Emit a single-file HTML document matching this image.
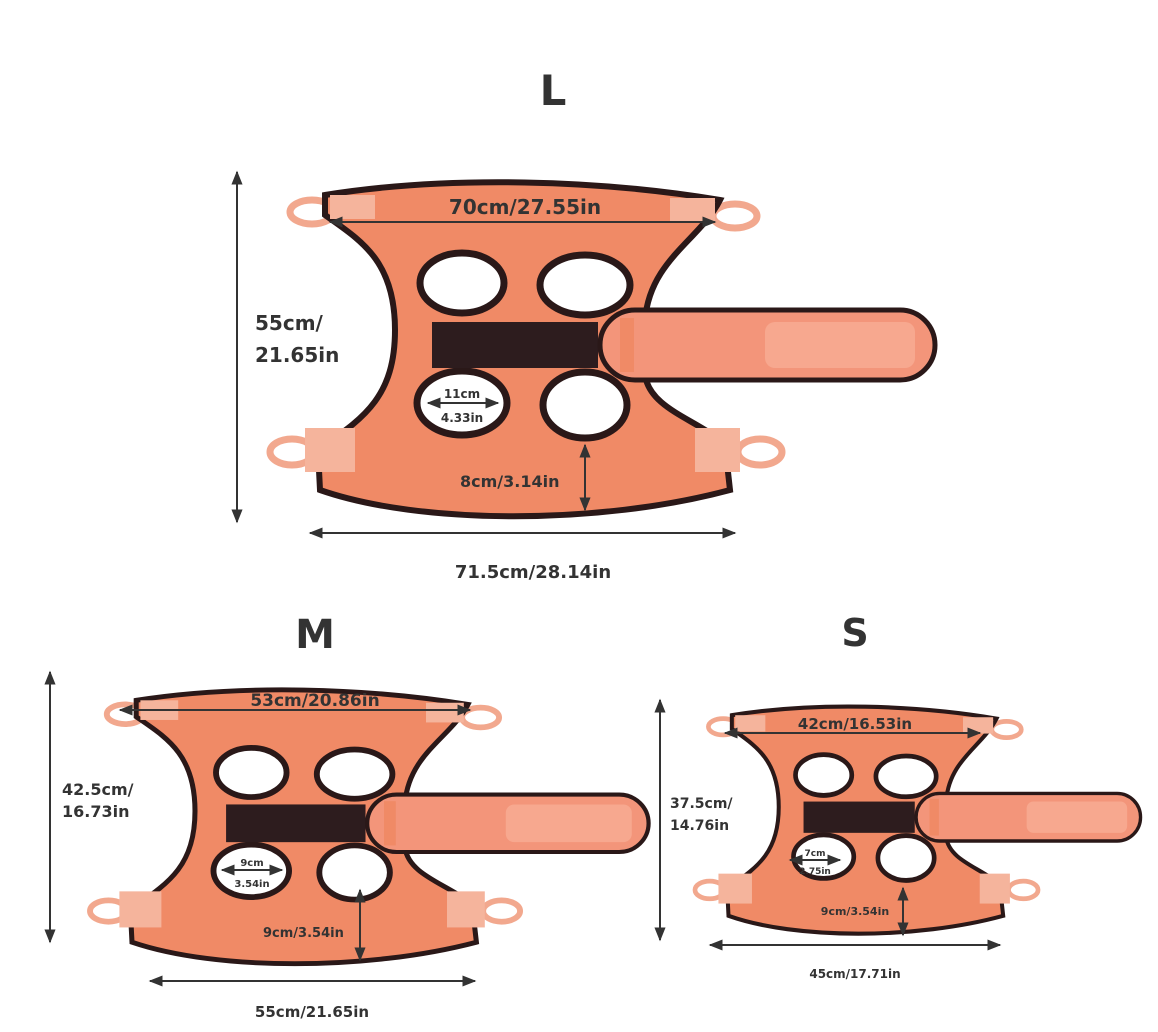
<!DOCTYPE html>
<html><head><meta charset="utf-8"><style>
html,body{margin:0;padding:0;background:#fff;}
svg{display:block;}
text{font-family:"DejaVu Sans","Liberation Sans",sans-serif;font-weight:bold;fill:#333;}
</style></head><body>
<svg width="1158" height="1032" viewBox="0 0 1158 1032" xmlns="http://www.w3.org/2000/svg">
<defs>
<marker id="a" viewBox="0 0 10 10" refX="9" refY="5" markerWidth="7" markerHeight="7" orient="auto-start-reverse"><path d="M0,1 L10,5 L0,9 Z" fill="#333"/></marker>
<g id="vest">
  <!-- loops -->
  <g fill="none" stroke="#f2a88e" stroke-width="7">
    <ellipse cx="312" cy="212" rx="22" ry="12"/>
    <ellipse cx="735" cy="216" rx="22" ry="12"/>
    <ellipse cx="292" cy="452" rx="22" ry="13"/>
    <ellipse cx="760" cy="452" rx="22" ry="13"/>
  </g>
  <path d="M325,195 C450,175 600,180 720,200 C700,240 650,260 645,320 L645,375 C650,410 700,420 725,445 L730,490 C600,525 420,525 320,490 L318,450 C360,420 395,400 395,330 C395,260 360,240 325,215 Z" fill="#f08a66" stroke="#2a1818" stroke-width="6"/>
  <!-- tabs -->
  <g fill="#f5b49c">
    <rect x="330" y="195" width="45" height="24"/>
    <rect x="670" y="198" width="45" height="24"/>
    <rect x="305" y="428" width="50" height="44"/>
    <rect x="695" y="428" width="45" height="44"/>
  </g>
  <!-- holes -->
  <g fill="#fff" stroke="#2a1818" stroke-width="7">
    <ellipse cx="462" cy="283" rx="42" ry="30"/>
    <ellipse cx="585" cy="285" rx="45" ry="30"/>
    <ellipse cx="462" cy="403" rx="45" ry="32"/>
    <ellipse cx="585" cy="405" rx="42" ry="33"/>
  </g>
  <rect x="432" y="322" width="166" height="46" fill="#2d1c1e"/>
  <rect x="600" y="310" width="335" height="70" rx="35" fill="#f3957a" stroke="#2a1818" stroke-width="5"/>
  <rect x="620" y="318" width="14" height="54" fill="#f08a66"/>
  <rect x="765" y="322" width="150" height="46" rx="10" fill="#f7a88f"/>
</g>
</defs>
<rect width="1158" height="1032" fill="#fff"/>

<!-- L -->
<text x="553" y="105" font-size="42" text-anchor="middle">L</text>
<use href="#vest"/>
<g stroke="#333" stroke-width="2" marker-start="url(#a)" marker-end="url(#a)">
  <line x1="237" y1="172" x2="237" y2="522"/>
  <line x1="310" y1="533" x2="735" y2="533"/>
  <line x1="330" y1="222" x2="715" y2="222"/>
  <line x1="585" y1="445" x2="585" y2="510"/>
  <line x1="428" y1="403" x2="498" y2="403"/>
</g>
<text x="525" y="214" font-size="20" text-anchor="middle">70cm/27.55in</text>
<text x="255" y="330" font-size="20">55cm/</text>
<text x="255" y="362" font-size="20">21.65in</text>
<text x="533" y="578" font-size="18" text-anchor="middle">71.5cm/28.14in</text>
<text x="460" y="487" font-size="16">8cm/3.14in</text>
<text x="462" y="398" font-size="12" text-anchor="middle">11cm</text>
<text x="462" y="422" font-size="12" text-anchor="middle">4.33in</text>

<!-- M -->
<text x="315" y="648" font-size="40" text-anchor="middle">M</text>
<use href="#vest" transform="translate(90,688) scale(0.84,0.82) translate(-270,-180)"/>
<g stroke="#333" stroke-width="2" marker-start="url(#a)" marker-end="url(#a)">
  <line x1="50" y1="672" x2="50" y2="942"/>
  <line x1="150" y1="981" x2="475" y2="981"/>
  <line x1="120" y1="710" x2="470" y2="710"/>
  <line x1="360" y1="890" x2="360" y2="960"/>
  <line x1="222" y1="870" x2="282" y2="870"/>
</g>
<text x="315" y="706" font-size="17" text-anchor="middle">53cm/20.86in</text>
<text x="62" y="795" font-size="16">42.5cm/</text>
<text x="62" y="817" font-size="16">16.73in</text>
<text x="312" y="1017" font-size="15" text-anchor="middle">55cm/21.65in</text>
<text x="263" y="937" font-size="13">9cm/3.54in</text>
<text x="252" y="866" font-size="10" text-anchor="middle">9cm</text>
<text x="252" y="887" font-size="10" text-anchor="middle">3.54in</text>

<!-- S -->
<text x="855" y="646" font-size="38" text-anchor="middle">S</text>
<use href="#vest" transform="translate(695,705) scale(0.67,0.68) translate(-270,-180)"/>
<g stroke="#333" stroke-width="2" marker-start="url(#a)" marker-end="url(#a)">
  <line x1="660" y1="700" x2="660" y2="940"/>
  <line x1="710" y1="945" x2="1000" y2="945"/>
  <line x1="725" y1="733" x2="980" y2="733"/>
  <line x1="903" y1="888" x2="903" y2="935"/>
  <line x1="790" y1="860" x2="840" y2="860"/>
</g>
<text x="855" y="729" font-size="15" text-anchor="middle">42cm/16.53in</text>
<text x="670" y="808" font-size="14">37.5cm/</text>
<text x="670" y="830" font-size="14">14.76in</text>
<text x="855" y="978" font-size="12" text-anchor="middle">45cm/17.71in</text>
<text x="855" y="915" font-size="11" text-anchor="middle">9cm/3.54in</text>
<text x="815" y="856" font-size="9" text-anchor="middle">7cm</text>
<text x="815" y="874" font-size="9" text-anchor="middle">2.75in</text>
</svg>
</body></html>
